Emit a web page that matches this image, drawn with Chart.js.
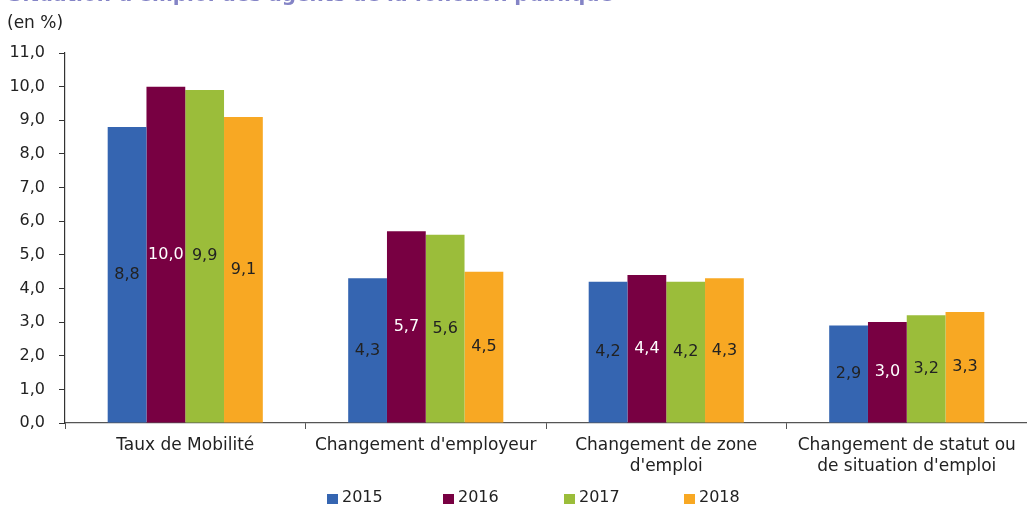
<!DOCTYPE html>
<html>
<head>
<meta charset="utf-8">
<script src="https://cdn.jsdelivr.net/npm/chart.js@4.4.0/dist/chart.umd.min.js"></script>
<style>
  html, body { margin: 0; padding: 0; background: #fff; }
  #wrap { width: 1027px; height: 506px; position: relative; }
</style>
</head>
<body>
<div id="wrap"><canvas id="myChart"></canvas></div>
<script>
const labels = [
  'Taux de Mobilité',
  "Changement d'employeur",
  ["Changement de zone", "d'emploi"],
  ["Changement de statut ou", "de situation d'emploi"]
];
const years = ['2015', '2016', '2017', '2018'];
const values2015 = [8.8, 4.3, 4.2, 2.9];
const values2016 = [10.0, 5.7, 4.4, 3.0];
const values2017 = [9.9, 5.6, 4.2, 3.2];
const values2018 = [9.1, 4.5, 4.3, 3.3];
const colors = ['#3565b1', '#780042', '#9bbd3a', '#f8a823'];
const labelColors = ['#222', '#fff', '#222', '#222'];

const FONT = "'DejaVu Sans', sans-serif";
const fr = v => v.toFixed(1).replace('.', ',');

// valeurs au milieu des barres
const barValues = {
  id: 'barValues',
  afterDatasetsDraw(chart) {
    const ctx = chart.ctx;
    ctx.save();
    ctx.font = '16px ' + FONT;
    ctx.textAlign = 'center';
    ctx.textBaseline = 'middle';
    chart.data.datasets.forEach((ds, i) => {
      const meta = chart.getDatasetMeta(i);
      ctx.fillStyle = labelColors[i];
      meta.data.forEach((bar, j) => {
        ctx.fillText(fr(ds.data[j]), bar.x, (bar.y + bar.base) / 2);
      });
    });
    ctx.restore();
  }
};

// titre coupé, unité et légende
const extras = {
  id: 'extras',
  afterDraw(chart) {
    const ctx = chart.ctx;
    ctx.save();
    ctx.fillStyle = '#8484c6';
    ctx.font = 'bold 20px ' + FONT;
    ctx.textBaseline = 'alphabetic';
    ctx.fillText("Situation d'emploi des agents de la fonction publique", 8, 1);
    ctx.fillStyle = '#222';
    ctx.font = '17px ' + FONT;
    ctx.textBaseline = 'middle';
    ctx.fillText('(en %)', 7, 24);
    // légende
    ctx.font = '16px ' + FONT;
    const legendX = [327, 443, 564, 684];
    chart.data.datasets.forEach((ds, i) => {
      ctx.fillStyle = ds.backgroundColor;
      ctx.fillRect(legendX[i], 494, 11, 10);
      ctx.fillStyle = '#222';
      ctx.fillText(ds.label, legendX[i] + 15, 498);
    });
    ctx.restore();
  }
};

const data = {
  labels: labels,
  datasets: [
    { label: years[0], data: values2015, backgroundColor: colors[0] },
    { label: years[1], data: values2016, backgroundColor: colors[1] },
    { label: years[2], data: values2017, backgroundColor: colors[2] },
    { label: years[3], data: values2018, backgroundColor: colors[3] }
  ]
};

const config = {
  type: 'bar',
  data: data,
  options: {
    responsive: false,
    animation: false,
    layout: { padding: { top: 53, left: 0, right: 0, bottom: 23 } },
    datasets: { bar: { categoryPercentage: 0.645, barPercentage: 1.0, borderWidth: 0 } },
    plugins: { legend: { display: false }, tooltip: { enabled: false } },
    scales: {
      x: {
        grid: { offset: true, drawOnChartArea: false, color: '#555', tickLength: 6 },
        border: { color: '#555', width: 1.2 },
        ticks: { color: '#222', font: { family: FONT, size: 17, lineHeight: 1.22 }, padding: 6, maxRotation: 0, autoSkip: false },
        afterFit(scale) { scale.height = 60; }
      },
      y: {
        min: 0, max: 11,
        grid: { drawOnChartArea: false, color: '#333', tickLength: 6 },
        border: { color: '#333', width: 1.2 },
        ticks: { stepSize: 1, color: '#222', font: { family: FONT, size: 16 }, padding: 14, callback: v => fr(v) },
        afterFit(scale) { scale.width = 65; }
      }
    }
  },
  plugins: [barValues, extras]
};

const canvas = document.getElementById('myChart');
canvas.width = 1027;
canvas.height = 506;
const myChart = new Chart(canvas, config);
</script>
</body>
</html>
